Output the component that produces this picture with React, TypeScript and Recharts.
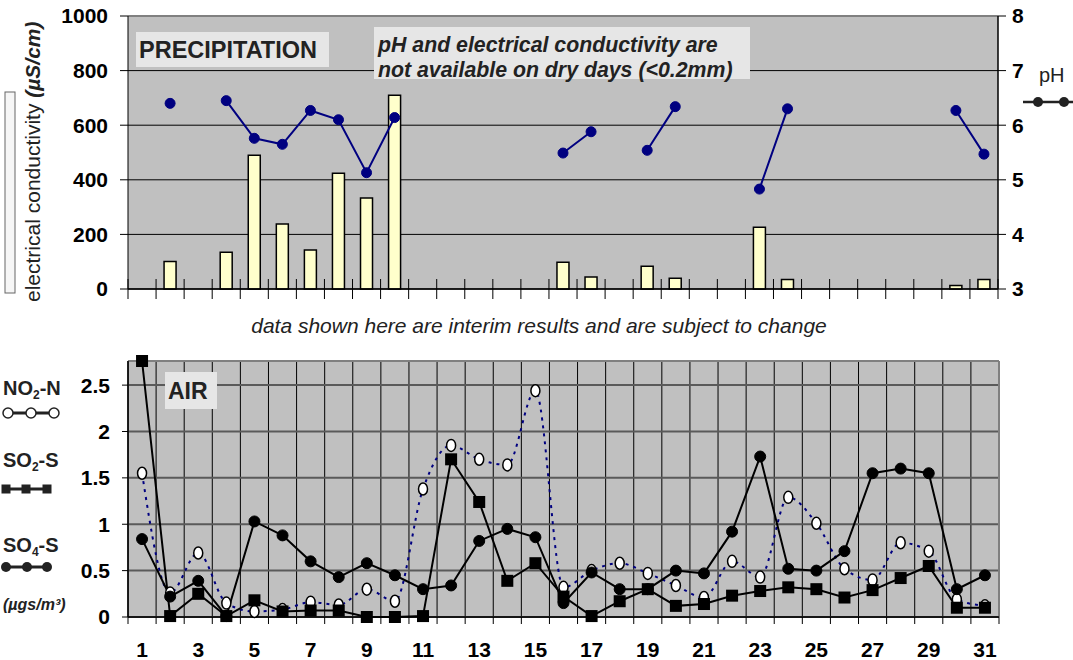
import React from 'react';
import { ComposedChart, Bar, Line, XAxis, YAxis, CartesianGrid, ReferenceLine } from 'recharts';

const days = [1, 2, 3, 4, 5, 6, 7, 8, 9, 10, 11, 12, 13, 14, 15, 16, 17, 18, 19, 20, 21, 22, 23, 24, 25, 26, 27, 28, 29, 30, 31];
const conductivity = [null, 101, null, 135, 490, 238, 143, 424, 333, 710, null, null, null, null, null, 98, 44, null, 83, 39, null, null, 226, 35, null, null, null, null, null, 13, 35];
const phValues = [null, 6.4, null, 6.45, 5.76, 5.65, 6.27, 6.1, 5.13, 6.14, null, null, null, null, null, 5.49, 5.88, null, 5.54, 6.34, null, null, 4.83, 6.3, null, null, null, null, null, 6.27, 5.47];
const no2 = [1.55, 0.26, 0.69, 0.15, 0.06, 0.08, 0.16, 0.13, 0.3, 0.17, 1.38, 1.85, 1.7, 1.64, 2.44, 0.32, 0.5, 0.58, 0.47, 0.34, 0.21, 0.6, 0.43, 1.29, 1.01, 0.52, 0.4, 0.8, 0.71, 0.19, 0.12];
const so2 = [2.76, 0.01, 0.25, 0.01, 0.18, 0.06, 0.07, 0.07, 0.0, 0.0, 0.01, 1.7, 1.24, 0.39, 0.58, 0.22, 0.01, 0.17, 0.3, 0.12, 0.14, 0.23, 0.28, 0.32, 0.3, 0.21, 0.29, 0.42, 0.55, 0.1, 0.1];
const so4 = [0.84, 0.22, 0.39, 0.01, 1.03, 0.88, 0.6, 0.43, 0.58, 0.45, 0.3, 0.34, 0.82, 0.95, 0.86, 0.15, 0.48, 0.3, 0.3, 0.5, 0.47, 0.92, 1.73, 0.52, 0.5, 0.71, 1.55, 1.6, 1.55, 0.3, 0.45];

const dayBoundaries = [0.5, 1.5, 2.5, 3.5, 4.5, 5.5, 6.5, 7.5, 8.5, 9.5, 10.5, 11.5, 12.5, 13.5, 14.5, 15.5, 16.5, 17.5, 18.5, 19.5, 20.5, 21.5, 22.5, 23.5, 24.5, 25.5, 26.5, 27.5, 28.5, 29.5, 30.5, 31.5];
const dayLabels = [1, 3, 5, 7, 9, 11, 13, 15, 17, 19, 21, 23, 25, 27, 29, 31];
const ecTicks = [0, 200, 400, 600, 800, 1000];
const phTicks = [3, 4, 5, 6, 7, 8];
const airTicks = [0, 0.5, 1, 1.5, 2, 2.5];
const airMax = 2.76;

const precipData = days.map((day, i) => ({ day, ec: conductivity[i], ph: phValues[i] }));
const airData = days.map((day, i) => ({ day, no2: no2[i], so2: so2[i], so4: so4[i] }));

const FONT = '"Liberation Sans", Arial, sans-serif';
const tickFont = { fontFamily: FONT, fontSize: 21, fontWeight: 'bold', fill: '#000' } as any;

function CrossTick(props: any) {
  const { x, y } = props;
  return <line x1={x} x2={x} y1={y - 10} y2={y + 10} stroke="#000" strokeWidth={1} />;
}

function EmptyTick() {
  return <g />;
}

function No2Dot(p: any) {
  if (p.cx == null || p.cy == null) return <g key={`n${p.index}`} />;
  return <ellipse key={`n${p.index}`} cx={p.cx} cy={p.cy} rx={4.5} ry={6} fill="#fff" stroke="#000" strokeWidth={1.5} />;
}

function So2Dot(p: any) {
  if (p.cx == null || p.cy == null) return <g key={`s${p.index}`} />;
  return <rect key={`s${p.index}`} x={p.cx - 6} y={p.cy - 6} width={12} height={12} fill="#000" />;
}

export default function App() {
  return (
    <div style={{ position: 'relative', width: 1073, height: 660, overflow: 'hidden', background: '#fff', fontFamily: FONT }}>
      <style>{'body{margin:0}'}</style>
      <div style={{ position: 'absolute', left: 0, top: 0 }}>
        <ComposedChart width={1073} height={330} data={precipData} margin={{ top: 16, right: 0, bottom: 21, left: 0 }}>
          <CartesianGrid vertical={false} fill="#c0c0c0" stroke="#000" strokeWidth={1} />
          <XAxis
            dataKey="day"
            type="number"
            scale="linear"
            domain={[0.5, 31.5]}
            ticks={dayBoundaries}
            interval={0}
            height={20}
            tickSize={0}
            tickMargin={0}
            tickLine={false}
            tick={<CrossTick />}
            axisLine={{ stroke: '#000', strokeWidth: 1.5 }}
          />
          <YAxis
            domain={[0, 1000]}
            ticks={ecTicks}
            width={128}
            tickSize={8}
            tickMargin={12}
            tick={tickFont}
            axisLine={{ stroke: '#000', strokeWidth: 1 }}
            tickLine={{ stroke: '#000' }}
            interval={0}
          />
          <YAxis
            yAxisId="ph"
            orientation="right"
            domain={[3, 8]}
            ticks={phTicks}
            width={75}
            tickSize={8}
            tickMargin={6}
            tick={tickFont}
            axisLine={{ stroke: '#000', strokeWidth: 1.5 }}
            tickLine={{ stroke: '#000' }}
            interval={0}
          />
          <ReferenceLine y={1000} stroke="#808080" strokeWidth={2} />
          <Bar dataKey="ec" barSize={12} fill="#ffffcc" stroke="#000" strokeWidth={1.5} isAnimationActive={false} />
          <Line
            yAxisId="ph"
            dataKey="ph"
            stroke="#000080"
            strokeWidth={2}
            dot={{ r: 5, fill: '#000080', stroke: '#000080', strokeWidth: 1 }}
            connectNulls={false}
            isAnimationActive={false}
          />
        </ComposedChart>
      </div>
      <div style={{ position: 'absolute', left: 0, top: 340 }}>
        <ComposedChart width={1073} height={320} data={airData} margin={{ top: 21, right: 74, bottom: 0, left: 0 }}>
          <CartesianGrid xAxisId="grid" horizontal={false} fill="#c0c0c0" stroke="#000" strokeWidth={1} />
          <CartesianGrid xAxisId="grid" vertical={false} stroke="#5a5a5a" strokeWidth={2} />
          <XAxis
            xAxisId="grid"
            dataKey="day"
            type="number"
            scale="linear"
            domain={[0.5, 31.5]}
            ticks={dayBoundaries}
            interval={0}
            height={8}
            tickSize={7}
            tickMargin={0}
            tick={<EmptyTick />}
            tickLine={{ stroke: '#000' }}
            axisLine={{ stroke: '#000', strokeWidth: 1.5 }}
          />
          <XAxis
            xAxisId="lab"
            dataKey="day"
            type="number"
            scale="linear"
            domain={[0.5, 31.5]}
            ticks={dayLabels}
            interval={0}
            height={35}
            tickSize={0}
            tickMargin={17}
            tickLine={false}
            axisLine={false}
            tick={tickFont}
          />
          <YAxis
            domain={[0, airMax]}
            ticks={airTicks}
            width={128}
            tickSize={6}
            tickMargin={12}
            tick={tickFont}
            tickFormatter={(v: number) => String(v)}
            axisLine={{ stroke: '#000', strokeWidth: 1.5 }}
            tickLine={{ stroke: '#000' }}
            interval={0}
          />
          <ReferenceLine y={airMax} xAxisId="grid" stroke="#808080" strokeWidth={2} />
          <ReferenceLine x={31.5} xAxisId="grid" stroke="#808080" strokeWidth={2} />
          <Line
            xAxisId="grid"
            type="monotone"
            dataKey="no2"
            stroke="#000080"
            strokeWidth={2}
            strokeDasharray="3 5"
            dot={No2Dot}
            isAnimationActive={false}
          />
          <Line
            xAxisId="grid"
            type="linear"
            dataKey="so2"
            stroke="#000"
            strokeWidth={2}
            dot={So2Dot}
            isAnimationActive={false}
          />
          <Line
            xAxisId="grid"
            type="linear"
            dataKey="so4"
            stroke="#000"
            strokeWidth={2}
            dot={{ r: 5.5, fill: '#000', stroke: '#000', strokeWidth: 1 }}
            isAnimationActive={false}
          />
        </ComposedChart>
      </div>
      <svg width={1073} height={660} style={{ position: 'absolute', left: 0, top: 0, pointerEvents: 'none' }} fontFamily={FONT}>
        <rect x={5} y={92} width={10} height={201} fill="#f6f6f6" stroke="#666" strokeWidth={1} />
        <text transform="translate(40,302) rotate(-90)" fontSize={21} fill="#222">
          <tspan>electrical conductivity </tspan>
          <tspan fontWeight="bold" fontStyle="italic">(µS/cm)</tspan>
        </text>
        <rect x={136} y={32} width={193} height={35} fill="#e6e6e6" />
        <text x={139} y={58} fontSize={23.5} fontWeight="bold" fill="#222">PRECIPITATION</text>
        <rect x={374} y={27} width={376} height={52} fill="#e6e6e6" />
        <text x={378} y={52} fontSize={21.3} fontWeight="bold" fontStyle="italic" fill="#222">pH and electrical conductivity are</text>
        <text x={378} y={77} fontSize={21.3} fontWeight="bold" fontStyle="italic" fill="#222">not available on dry days (&lt;0.2mm)</text>
        <text x={1039} y={82} fontSize={20} fill="#222">pH</text>
        <line x1={1023} x2={1073} y1={102} y2={102} stroke="#222" strokeWidth={2.5} />
        <circle cx={1038} cy={102} r={5} fill="#222" />
        <circle cx={1064} cy={102} r={5} fill="#222" />
        <text x={539} y={333} fontSize={21} fontStyle="italic" fill="#222" textAnchor="middle">data shown here are interim results and are subject to change</text>
        <rect x={165} y={372} width={52} height={37} fill="#e6e6e6" />
        <text x={168} y={399} fontSize={23} fontWeight="bold" fill="#222">AIR</text>
        <text x={3} y={395} fontSize={20} fontWeight="bold" fill="#222">
          NO<tspan fontSize={12} dy={4}>2</tspan><tspan dy={-4}>-N</tspan>
        </text>
        <line x1={7} x2={55} y1={413} y2={413} stroke="#222" strokeWidth={3} />
        <circle cx={8} cy={413} r={5} fill="#fff" stroke="#222" strokeWidth={1.5} />
        <circle cx={31} cy={413} r={5} fill="#fff" stroke="#222" strokeWidth={1.5} />
        <circle cx={54} cy={413} r={5} fill="#fff" stroke="#222" strokeWidth={1.5} />
        <text x={3} y={467} fontSize={20} fontWeight="bold" fill="#222">
          SO<tspan fontSize={12} dy={4}>2</tspan><tspan dy={-4}>-S</tspan>
        </text>
        <line x1={6} x2={47} y1={489} y2={489} stroke="#222" strokeWidth={3} />
        <rect x={1.5} y={484.5} width={9} height={9} fill="#222" />
        <rect x={21.5} y={484.5} width={9} height={9} fill="#222" />
        <rect x={42.5} y={484.5} width={9} height={9} fill="#222" />
        <text x={3} y={552} fontSize={20} fontWeight="bold" fill="#222">
          SO<tspan fontSize={12} dy={4}>4</tspan><tspan dy={-4}>-S</tspan>
        </text>
        <line x1={6} x2={47} y1={567} y2={567} stroke="#222" strokeWidth={3} />
        <circle cx={6} cy={567} r={5} fill="#222" />
        <circle cx={27} cy={567} r={5} fill="#222" />
        <circle cx={47} cy={567} r={5} fill="#222" />
        <text x={3} y={610} fontSize={16} fontWeight="bold" fontStyle="italic" fill="#222">(µgs/m³)</text>
      </svg>
    </div>
  );
}
